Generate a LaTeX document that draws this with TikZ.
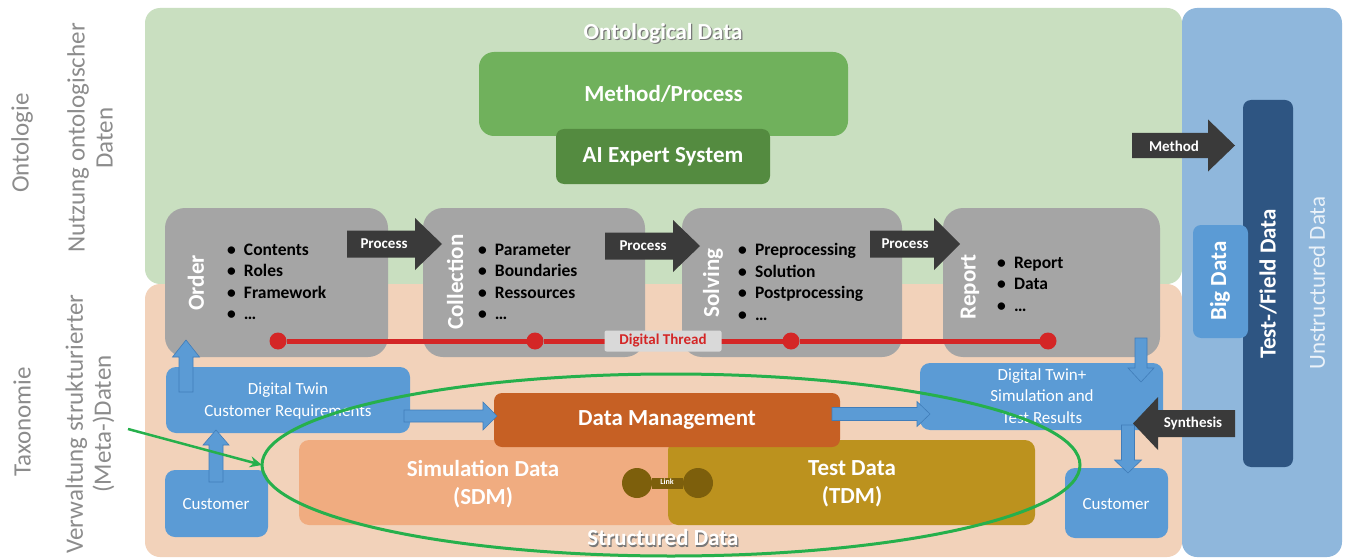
\documentclass[tikz,border=0pt]{standalone}
\usepackage{fontspec}
\setmainfont{Carlito}
\usetikzlibrary{shapes.geometric,arrows.meta}

\definecolor{greg}{RGB}{201,223,192}
\definecolor{peach}{RGB}{242,210,186}
\definecolor{ublue}{RGB}{143,183,220}
\definecolor{methg}{RGB}{112,177,92}
\definecolor{aig}{RGB}{84,139,64}
\definecolor{gbx}{RGB}{165,165,165}
\definecolor{darkar}{RGB}{58,58,58}
\definecolor{thr}{RGB}{212,38,38}
\definecolor{lblg}{RGB}{217,217,217}
\definecolor{bbx}{RGB}{91,155,213}
\definecolor{bbxl}{RGB}{65,125,185}
\definecolor{tfb}{RGB}{46,85,130}
\definecolor{dmo}{RGB}{198,96,36}
\definecolor{simo}{RGB}{240,172,128}
\definecolor{tdy}{RGB}{188,146,30}
\definecolor{linkc}{RGB}{125,95,12}
\definecolor{ellg}{RGB}{38,176,76}
\definecolor{lgray}{RGB}{140,140,140}
\definecolor{udtxt}{RGB}{235,242,249}
\definecolor{shad}{RGB}{120,120,120}

\newcommand\fsz[2]{\fontsize{#1}{#2}\selectfont}
\newcommand\bl{\makebox[17pt][l]{\textbullet}}
% box node: name, style, x1, y1, x2, y2, text
\newcommand\bx[7]{\node[#2, minimum width={#5-#3}, minimum height={#6-#4}, anchor=north west] (#1) at (#3,#4) {#7};}
% block arrows: style, ..., body half b, head half h, head length L
\newcommand\arR[7]{\fill[#1] (#2,#4-#5) -- (#3-#7,#4-#5) -- (#3-#7,#4-#6) -- (#3,#4) -- (#3-#7,#4+#6) -- (#3-#7,#4+#5) -- (#2,#4+#5) -- cycle;}
\newcommand\arL[7]{\fill[#1] (#2,#4-#5) -- (#3+#7,#4-#5) -- (#3+#7,#4-#6) -- (#3,#4) -- (#3+#7,#4+#6) -- (#3+#7,#4+#5) -- (#2,#4+#5) -- cycle;}
\newcommand\arU[7]{\fill[#1] (#2-#5,#3) -- (#2-#5,#4+#7) -- (#2-#6,#4+#7) -- (#2,#4) -- (#2+#6,#4+#7) -- (#2+#5,#4+#7) -- (#2+#5,#3) -- cycle;}
\newcommand\arD[7]{\fill[#1] (#2-#5,#3) -- (#2-#5,#4-#7) -- (#2-#6,#4-#7) -- (#2,#4) -- (#2+#6,#4-#7) -- (#2+#5,#4-#7) -- (#2+#5,#3) -- cycle;}

\tikzset{
  base/.style={inner sep=0, outer sep=0, text=white},
  reg/.style={base, rounded corners=15},
  gb/.style={base, fill=gbx, rounded corners=20},
  bb/.style={base, fill=bbx, rounded corners=10},
  title/.style={font=\fsz{23}{28}\bfseries},
  glabel/.style={base, rotate=90, font=\fsz{23}{27}\bfseries},
  blist/.style={base, text=black, anchor=west, align=left, font=\fsz{17.5}{21.5}\bfseries},
  side/.style={base, text=lgray, rotate=90, align=center, font=\fsz{25}{28}},
  dark/.style={fill=darkar},
  darktxt/.style={base, font=\fsz{15}{18}\bfseries},
  barrow/.style={fill=bbx, draw=bbxl, line width=0.6},
  dttxt/.style={base, align=center, font=\fsz{17}{21.5}},
}

\begin{document}
\begin{tikzpicture}[x=1pt,y=-1pt]
\useasboundingbox[fill=white] (0,0) rectangle (1346,559);

% regions
\bx{green}{reg, fill=greg}{145}{8}{1182}{284}{}
\bx{peach}{reg, fill=peach}{145}{284}{1182}{557}{}
\bx{blue}{reg, fill=ublue}{1182}{8}{1342}{557}{}

% side labels
\node[side] (onto) at (22,143) {Ontologie};
\node[side] (nutz) at (90,138) {Nutzung ontologischer\\Daten};
\node[side] (taxo) at (22,422) {Taxonomie};
\node[side] (verw) at (90,424) {Verwaltung strukturierter\\(Meta-)Daten};

% ontological data
\node[base, text=shad, title] (ontshad) at (664.2,34.2) {Ontological Data};
\node[base, title] (ontdata) at (663,33) {Ontological Data};
\bx{meth}{base, fill=methg, rounded corners=15, title}{479}{52}{848}{136}{Method/Process}
\bx{ai}{base, fill=aig, rounded corners=8, title}{556}{129}{770}{184}{AI Expert System}

% gray process boxes
\bx{order}{gb}{165}{208}{388}{357}{}
\bx{coll}{gb}{423}{208}{645}{357}{}
\bx{solv}{gb}{682}{208}{902}{357}{}
\bx{rep}{gb}{943}{208}{1160}{357}{}

\node[glabel] (orderl) at (196,283) {Order};
\node[glabel] (colll) at (455,282) {Collection};
\node[glabel] (solvl) at (713,283) {Solving};
\node[glabel] (repl) at (970,287) {Report};

\node[blist] (orderlist) at (227,282) {\bl Contents\\\bl Roles\\\bl Framework\\\bl …};
\node[blist] (colllist) at (478,282) {\bl Parameter\\\bl Boundaries\\\bl Ressources\\\bl …};
\node[blist] (solvlist) at (738,282) {\bl Preprocessing\\\bl Solution\\\bl Postprocessing\\\bl …};
\node[blist] (replist) at (997,284) {\bl Report\\\bl Data\\\bl …};

% process arrows
\arR{dark}{347}{442}{244}{13.5}{26}{27}
\node[darktxt] (p1) at (384,244) {Process};
\arR{dark}{605}{700}{246}{13.5}{26}{27}
\node[darktxt] (p2) at (643,246) {Process};
\arR{dark}{870}{960}{244}{13.5}{26}{26}
\node[darktxt] (p3) at (905,244) {Process};

% digital thread
\node[base, circle, fill=thr, minimum size=17] (t1) at (278,341) {};
\node[base, circle, fill=thr, minimum size=17] (t2) at (535,341) {};
\node[base, circle, fill=thr, minimum size=17] (t3) at (791,341) {};
\node[base, circle, fill=thr, minimum size=17] (t4) at (1048,341) {};
\draw[thr, line width=5] (t1) -- (t2) -- (t3) -- (t4);
\node[base, fill=lblg, text=thr, minimum width=117, minimum height=21, rounded corners=2, font=\fsz{15}{18}\bfseries] (dthread) at (663,341) {Digital Thread};

% unstructured data column
\node[base, rotate=90, text=udtxt, font=\fsz{23}{27}] (unstr) at (1317,283) {Unstructured Data};
\bx{tf}{base, fill=tfb, rounded corners=8}{1243}{100}{1293}{467}{}
\node[glabel] (tfl) at (1268,284) {Test-/Field Data};
\bx{big}{base, fill=bbx, rounded corners=8}{1193}{225}{1248}{338}{}
\node[glabel] (bigl) at (1220,281) {Big Data};

\arR{dark}{1132}{1235}{145.5}{12.5}{26}{27}
\node[darktxt] (methodl) at (1174,146) {Method};

% lower area boxes
\bx{dtc}{bb}{166}{367}{410}{433}{}
\node[dttxt] (dtcl) at (288,401) {Digital Twin\\Customer  Requirements};
\bx{dtp}{bb}{920}{363}{1163}{430}{}
\node[dttxt] (dtpl) at (1042,396) {Digital Twin+\\Simulation and\\Test Results};

\bx{sim}{base, fill=simo, rounded corners=10}{299}{440}{680}{525}{}
\node[base, align=center, title] (siml) at (483,484) {Simulation Data\\(SDM)};
\bx{tdm}{base, fill=tdy, rounded corners=10}{668}{440}{1035}{525}{}
\node[base, align=center, title] (tdml) at (852,484) {Test Data\\(TDM)};
\bx{dm}{base, fill=dmo, rounded corners=8, title}{494}{393}{840}{447}{Data Management}

% link
\node[base, circle, fill=linkc, minimum size=30] (lk1) at (637,483) {};
\node[base, circle, fill=linkc, minimum size=30] (lk2) at (698,483) {};
\draw[linkc, line width=11] (lk1) -- (lk2);
\node[base, font=\fsz{8}{9}\bfseries] (lkl) at (667,482) {Link};

\node[base, text=shad, title] (sdshad) at (664.2,539.2) {Structured Data};
\node[base, title] (sdata) at (663,538) {Structured Data};

% customers
\bx{cust1}{bb}{165}{470}{268}{537}{}
\node[dttxt] (cust1l) at (216,504) {Customer};
\bx{cust2}{bb}{1065}{468}{1168}{538}{}
\node[dttxt] (cust2l) at (1116,504) {Customer};

% blue block arrows
\arU{barrow}{186}{392}{340}{7}{13.5}{17}
\arU{barrow}{216}{482}{430}{7}{13}{15}
\arR{barrow}{404}{497}{416}{6}{14}{14}
\arR{barrow}{832}{930}{414}{6.5}{12.5}{13}
\arD{barrow}{1141}{338}{382}{6}{13}{14}
\arD{barrow}{1128}{425}{473}{6.5}{13.5}{13}

% synthesis
\arL{dark}{1235}{1133}{423.5}{13.5}{26.5}{25}
\node[darktxt] (synl) at (1193,423) {Synthesis};

% green ellipse and pointer
\node[base, ellipse, draw=ellg, line width=3, minimum width=818, minimum height=182] (ell) at (671,465) {};
\coordinate (gstart) at (128,429);
\draw[ellg, line width=2.5, -{Stealth[length=12pt,width=11pt]}] (gstart) -- (ell.west);
\end{tikzpicture}
\end{document}
